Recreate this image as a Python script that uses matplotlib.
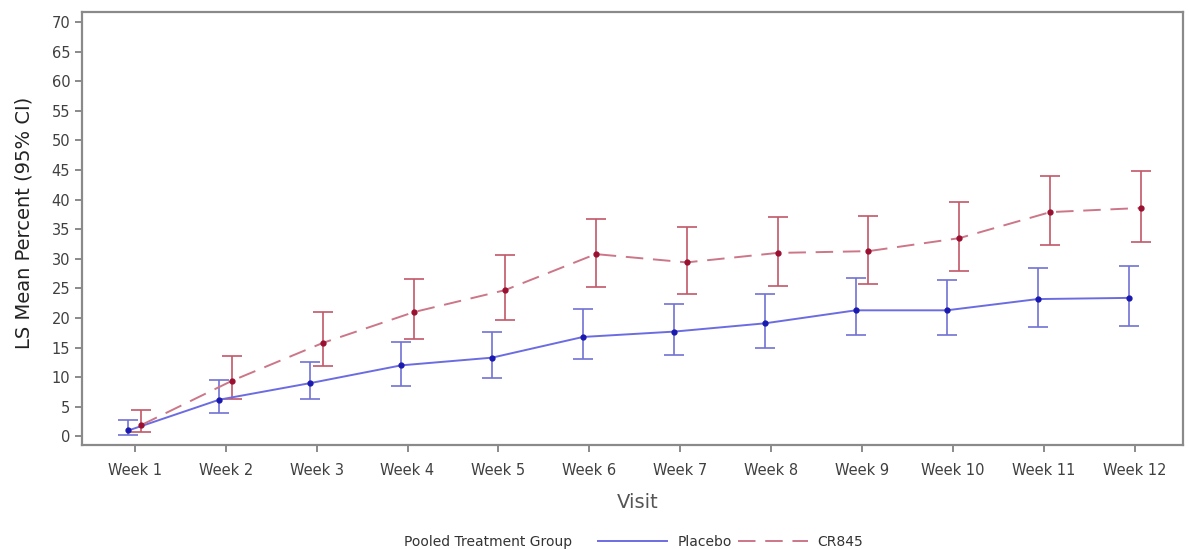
import numpy as np
import matplotlib.pyplot as plt
from matplotlib.lines import Line2D

plt.rcParams['font.family'] = ['DejaVu Sans']

weeks = ["Week 1", "Week 2", "Week 3", "Week 4", "Week 5", "Week 6",
         "Week 7", "Week 8", "Week 9", "Week 10", "Week 11", "Week 12"]

placebo_mean = [1.0, 6.2, 9.0, 12.0, 13.3, 16.8, 17.7, 19.1, 21.3, 21.3, 23.2, 23.4]
placebo_lo = [0.3, 3.9, 6.3, 8.5, 9.8, 13.0, 13.7, 14.9, 17.1, 17.1, 18.4, 18.6]
placebo_hi = [2.7, 9.5, 12.5, 16.0, 17.7, 21.5, 22.3, 24.1, 26.7, 26.5, 28.5, 28.8]

cr_mean = [1.9, 9.4, 15.8, 21.0, 24.7, 30.8, 29.4, 31.0, 31.3, 33.5, 37.9, 38.6]
cr_lo = [0.8, 6.3, 11.9, 16.5, 19.7, 25.3, 24.0, 25.4, 25.7, 28.0, 32.3, 32.8]
cr_hi = [4.5, 13.6, 21.1, 26.6, 30.6, 36.8, 35.3, 37.0, 37.3, 39.6, 44.0, 44.9]

x = np.arange(len(weeks))
off = 0.07
blue, red = '#6c6ce2', '#cc7688'

fig = plt.figure(figsize=(11.89, 5.49), dpi=100)
ax = fig.add_axes([0.069, 0.189, 0.926, 0.789])

pm = np.array(placebo_mean)
cm = np.array(cr_mean)
ax.errorbar(x - off, pm, yerr=[pm - np.array(placebo_lo), np.array(placebo_hi) - pm],
            color=blue, lw=1.4, ecolor='#7272d6', elinewidth=1.2, capsize=7,
            capthick=1.2, marker='o', ms=3.5, mfc='#1a1ab0', mec='#1a1ab0')
ax.errorbar(x + off, cm, yerr=[cm - np.array(cr_lo), np.array(cr_hi) - cm],
            color=red, lw=1.4, ls=(0, (9, 5)), ecolor='#c25868', elinewidth=1.2,
            capsize=7, capthick=1.2, marker='o', ms=3.5, mfc='#9a1030', mec='#9a1030')

ax.set_xlim(-0.58, 11.53)
ax.set_ylim(-1.5, 71.7)
ax.set_yticks(np.arange(0, 71, 5))
ax.set_xticks(x)
ax.set_xticklabels(weeks)
ax.tick_params(labelsize=10.5, colors='#404040', length=5, width=1.2, color='#777777')
ax.tick_params(axis='x', pad=8)
for s in ax.spines.values():
    s.set_color('#8a8a8a')
    s.set_linewidth(1.6)

fig.text(24 / 1189, 1 - 223 / 549, "LS Mean Percent (95% CI)", rotation=90,
         fontsize=14, color='#222222', ha='center', va='center')
fig.text(638 / 1189, 1 - 502 / 549, "Visit", fontsize=14, color='#555555',
         ha='center', va='center')

fig.text(488 / 1189, 1 - 542 / 549, "Pooled Treatment Group", fontsize=10,
         color='#333333', ha='center', va='center')
handles = [Line2D([], [], color=blue, lw=1.4),
           Line2D([], [], color=red, lw=1.4, ls=(0, (9, 5)))]
fig.legend(handles, ["Placebo", "CR845"], loc='center left',
           bbox_to_anchor=(598 / 1189, 1 - 542 / 549), ncol=2, frameon=False,
           fontsize=10, handlelength=5, columnspacing=0.5, handletextpad=0.7,
           borderpad=0, borderaxespad=0, labelcolor='#333333')

fig.savefig("out.png", dpi=100)
